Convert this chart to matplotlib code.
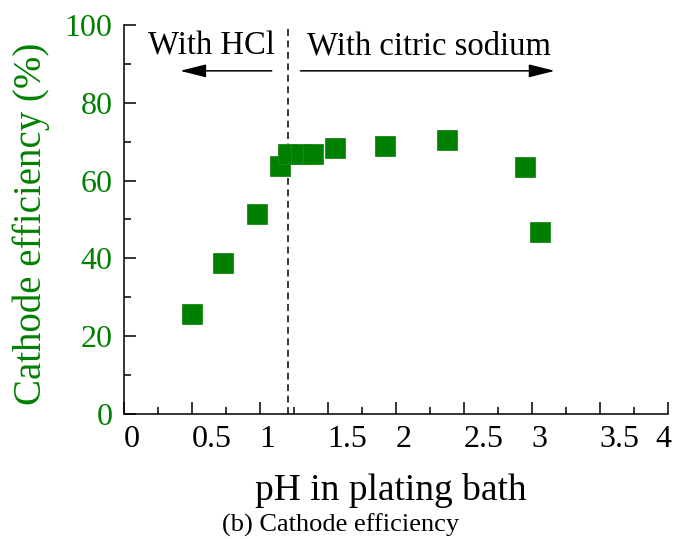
import matplotlib
matplotlib.use('agg')
from matplotlib import pyplot as plt
from matplotlib.ticker import MultipleLocator
from matplotlib.transforms import ScaledTranslation


ph_values = [0.50, 0.73, 0.98, 1.15, 1.21, 1.30, 1.39, 1.55, 1.92, 2.38, 2.95, 3.06]
efficiency = [25.6, 38.9, 51.4, 63.8, 66.9, 66.9, 66.9, 68.3, 69.0, 70.4, 63.4, 46.8]

x_ticks = [0, 0.5, 1, 1.5, 2, 2.5, 3, 3.5, 4]
x_tick_labels = ['0', '0.5', '1', '1.5', '2', '2.5', '3', '3.5', '4']
y_ticks = [0, 20, 40, 60, 80, 100]

boundary_ph = 1.21
green = '#008000'

plt.rc('font', family='Liberation Serif')
plt.rc('axes', linewidth=1.1)

fig = plt.figure(figsize=[6.78, 5.39], dpi=100)
ax = fig.add_axes([0.1825, 0.2328, 0.8024, 0.72])

ax.plot(ph_values, efficiency, linestyle='none', marker='s', markersize=14.5,
        color=green, markeredgecolor='#1a8c1a', markeredgewidth=0.6, zorder=3)

ax.axvline(boundary_ph, ymin=0, ymax=1, color='black', linewidth=1.1,
           linestyle=(0, (4.5, 3)), zorder=2)

ax.set_xlim(0, 4)
ax.set_ylim(0, 100)

ax.spines['top'].set_visible(False)
ax.spines['right'].set_visible(False)

ax.set_xticks(x_ticks)
ax.set_xticklabels(x_tick_labels, ha='left')
ax.xaxis.set_minor_locator(MultipleLocator(0.25))
ax.set_yticks(y_ticks)
ax.yaxis.set_minor_locator(MultipleLocator(10))

ax.tick_params(which='both', direction='in', width=1.1)
ax.tick_params(which='major', length=8.5)
ax.tick_params(which='minor', length=5)
ax.tick_params(axis='x', which='major', labelsize=23, pad=8, labelcolor='black')
ax.tick_params(axis='y', which='major', labelsize=23, pad=8, labelcolor=green)

# last x label is pulled back inside the figure
last = ax.get_xticklabels()[-1]
last.set_ha('right')
last.set_transform(last.get_transform() + ScaledTranslation(4 / 100, 0, fig.dpi_scale_trans))

# region labels and arrows
ax.text(0.18, 92.4, 'With HCl', fontsize=23.5, ha='left', va='baseline')
ax.text(1.35, 92.4, 'With citric sodium', fontsize=23.5, ha='left', va='baseline')

arrow = dict(arrowstyle='-|>,head_length=0.8,head_width=0.2', color='black',
             linewidth=1.1, mutation_scale=20, shrinkA=0, shrinkB=0)
ax.annotate('', xy=(0.414, 88.3), xytext=(1.088, 88.3), arrowprops=arrow)
ax.annotate('', xy=(3.17, 88.3), xytext=(1.30, 88.3), arrowprops=arrow)

fig.text(0.019, 0.585, 'Cathode efficiency (%)', rotation=90, fontsize=28,
         color=green, ha='left', va='center')
fig.text(0.577, 0.0724, 'pH in plating bath', fontsize=27, ha='center', va='baseline')
fig.text(0.502, 0.013, '(b) Cathode efficiency', fontsize=19, ha='center', va='baseline')

fig.savefig('out.png', dpi=100, facecolor='white')
